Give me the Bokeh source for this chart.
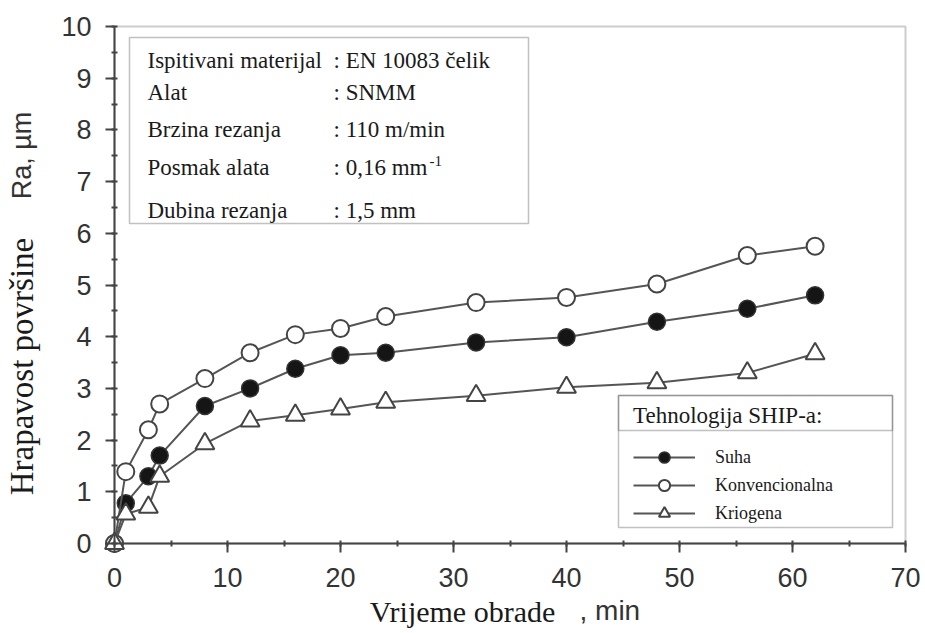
from math import pi
from bokeh.plotting import figure
from bokeh.models import (Label, BoxAnnotation, Legend, LegendItem, SingleIntervalTicker,
                          LinearAxis, Range1d)
from bokeh.embed import file_html
from bokeh.resources import INLINE

# ---- data ----
time_min = [0, 1, 3, 4, 8, 12, 16, 20, 24, 32, 40, 48, 56, 62]
suha = [0, 0.78, 1.3, 1.7, 2.66, 3.0, 3.38, 3.64, 3.69, 3.89, 3.99, 4.29, 4.54, 4.8]
konvencionalna = [0, 1.39, 2.2, 2.7, 3.19, 3.69, 4.04, 4.16, 4.39, 4.66, 4.76, 5.02, 5.57, 5.75]
kriogena = [0, 0.57, 0.7, 1.3, 1.93, 2.37, 2.48, 2.6, 2.73, 2.86, 3.02, 3.11, 3.3, 3.67]

series_names = ["Suha", "Konvencionalna", "Kriogena"]
info_keys = ["Ispitivani materijal", "Alat", "Brzina rezanja", "Posmak alata", "Dubina rezanja"]
info_vals = [": EN 10083 čelik", ": SNMM", ": 110 m/min", ": 0,16 mm", ": 1,5 mm"]
legend_title = "Tehnologija SHIP-a:"
x_label = "Vrijeme obrade"
x_unit = ", min"
y_label = "Hrapavost površine"
y_unit = "Ra, µm"

X_MIN, X_MAX, Y_MIN, Y_MAX = 0, 70, 0, 10

# ---- layout (canvas pixels) ----
W, H = 925, 633
PX0, PX1, PY0, PY1 = 114.0, 905.0, 543.0, 26.0   # frame of the axes in pixels
SX = (PX1 - PX0) / (X_MAX - X_MIN)
SY = (PY0 - PY1) / (Y_MAX - Y_MIN)
def dx(px):
    return X_MIN + (px - PX0) / SX
def dy(py):
    return Y_MIN + (PY0 - py) / SY

SERIF = "Liberation Serif"
SANS = "Liberation Sans"

p = figure(width=W, height=H,
           x_range=Range1d(dx(0), dx(W)), y_range=Range1d(dy(H), dy(0)),
           output_backend="svg", toolbar_location=None,
           x_axis_location=None, y_axis_location=None,
           min_border_left=0, min_border_right=0, min_border_top=0, min_border_bottom=0)
p.grid.visible = False
p.outline_line_color = None
p.background_fill_color = "white"

xaxis = LinearAxis(fixed_location=Y_MIN, bounds=(X_MIN, X_MAX),
                   ticker=SingleIntervalTicker(interval=10, num_minor_ticks=2))
yaxis = LinearAxis(fixed_location=X_MIN, bounds=(Y_MIN, Y_MAX),
                   ticker=SingleIntervalTicker(interval=1, num_minor_ticks=2))
for ax in (xaxis, yaxis):
    ax.axis_line_color = "#444444"
    ax.axis_line_width = 2
    ax.major_tick_line_color = "#444444"
    ax.major_tick_line_width = 2
    ax.minor_tick_line_color = "#444444"
    ax.minor_tick_line_width = 2
    ax.major_tick_out = 9
    ax.major_tick_in = 0
    ax.minor_tick_out = 3
    ax.minor_tick_in = 3
    ax.major_label_text_font = SANS
    ax.major_label_text_font_size = "27px"
    ax.major_label_text_color = "#333333"
yaxis.major_label_standoff = 14
xaxis.major_label_standoff = 15
p.add_layout(xaxis, "below")
p.add_layout(yaxis, "left")

# plot frame (top/right border)
p.add_layout(BoxAnnotation(left=X_MIN, right=X_MAX, bottom=Y_MIN, top=Y_MAX,
                           fill_alpha=0.0, line_color="#555555", line_width=2, level="underlay"))

line_col = "#555555"
r1l = p.line(time_min, suha, line_color=line_col, line_width=2)
r1m = p.scatter(time_min, suha, marker="circle", size=17, fill_color="#151515", line_color="#333333", line_width=1.5)
r2l = p.line(time_min, konvencionalna, line_color=line_col, line_width=2)
r2m = p.scatter(time_min, konvencionalna, marker="circle", size=17, fill_color="white", line_color="#444444", line_width=2)
r3l = p.line(time_min, kriogena, line_color=line_col, line_width=2)
r3m = p.scatter(time_min, kriogena, marker="triangle", size=19, fill_color="white", line_color="#444444", line_width=2)

# ---- info box ----
p.add_layout(BoxAnnotation(left=dx(129), right=dx(528), top=dy(37), bottom=dy(223),
                           fill_color="white", fill_alpha=1.0, line_color="#333333", line_width=1.5))
row_y = [60, 92, 129, 167, 210]
for k, v, ry in zip(info_keys, info_vals, row_y):
    p.add_layout(Label(x=dx(147), y=dy(ry), text=k, text_font=SERIF, text_font_size="23px",
                       text_color="#1a1a1a", text_baseline="middle", text_align="left"))
    p.add_layout(Label(x=dx(333), y=dy(ry), text=v, text_font=SERIF, text_font_size="23px",
                       text_color="#1a1a1a", text_baseline="middle", text_align="left"))
p.add_layout(Label(x=dx(429), y=dy(160), text="-1", text_font=SERIF, text_font_size="15px",
                   text_color="#1a1a1a", text_baseline="middle", text_align="left"))

# ---- legend box ----
p.add_layout(BoxAnnotation(left=dx(618), right=dx(892), top=dy(395), bottom=dy(527),
                           fill_color="white", fill_alpha=1.0, line_color="#333333", line_width=1.5))
p.add_layout(BoxAnnotation(left=dx(618), right=dx(892), top=dy(395), bottom=dy(430),
                           fill_alpha=0.0, line_color="#333333", line_width=1.5))
legend = Legend(items=[LegendItem(label=series_names[0], renderers=[r1l, r1m]),
                       LegendItem(label=series_names[1], renderers=[r2l, r2m]),
                       LegendItem(label=series_names[2], renderers=[r3l, r3m])],
                location=(623, 96), title=legend_title,
                title_text_font=SERIF, title_text_font_size="23px", title_text_font_style="normal",
                title_text_color="#1a1a1a", title_standoff=14,
                label_text_font=SERIF, label_text_font_size="18px", label_text_color="#1a1a1a",
                glyph_width=62, glyph_height=28, label_height=28, label_standoff=20,
                spacing=0, padding=10, margin=0,
                background_fill_alpha=0.0, border_line_alpha=0.0)
p.add_layout(legend)

# ---- axis titles ----
p.add_layout(Label(x=dx(21), y=dy(366), text=y_label, angle=pi / 2, text_font=SERIF,
                   text_font_size="33px", text_color="#1a1a1a", text_align="center", text_baseline="middle"))
p.add_layout(Label(x=dx(21), y=dy(155), text=y_unit, angle=pi / 2, text_font=SANS,
                   text_font_size="27px", text_color="#333333", text_align="center", text_baseline="middle"))
p.add_layout(Label(x=dx(462), y=dy(611), text=x_label, text_font=SERIF,
                   text_font_size="30px", text_color="#1a1a1a", text_align="center", text_baseline="middle"))
p.add_layout(Label(x=dx(579), y=dy(610), text=x_unit, text_font=SANS,
                   text_font_size="28px", text_color="#333333", text_align="left", text_baseline="middle"))

open("out.html", "w").write(file_html(p, INLINE))
